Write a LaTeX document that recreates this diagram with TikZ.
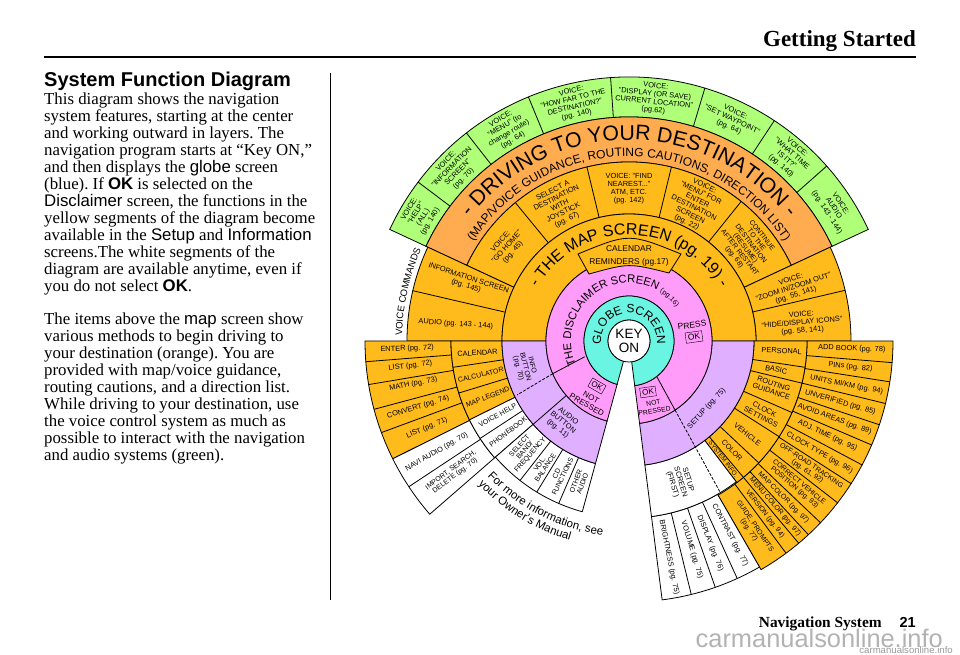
\documentclass[tikz,border=0pt]{standalone}
\usepackage{fontspec}
\setmainfont{Liberation Serif}
\setsansfont{Liberation Sans}
\usepackage{tikz}
\usetikzlibrary{decorations.text}
\definecolor{voicegreen}{RGB}{175,255,120}
\definecolor{driveorange}{RGB}{255,172,80}
\definecolor{mapamber}{RGB}{255,186,28}
\definecolor{discpink}{RGB}{255,156,250}
\definecolor{globeteal}{RGB}{105,245,225}
\definecolor{setuplilac}{RGB}{225,175,255}
\definecolor{markgrey}{RGB}{178,178,178}
\newcommand{\sector}[5]{\filldraw[ringline,fill=#1] (#2:#4) arc (#2:#3:#4) -- (#3:#5) arc (#3:#2:#5) -- cycle;}
\newcommand{\sansfs}[1]{\fontsize{#1}{#1}\selectfont\sffamily}
\newcommand{\labfs}{\fontsize{7.4}{8.1}\selectfont\sffamily}
\newcommand{\tightfs}{\fontsize{7}{7}\selectfont\sffamily}
\newcommand{\kw}[1]{{\sffamily #1}}
\tikzset{
	ringline/.style={draw=black,line width=0.8pt},
	arctext/.style={decorate,decoration={text along path,text align=center,text={#1}}},
	bodytext/.style={align=left,anchor=north west,inner sep=0pt,font=\fontsize{16.8}{17}\selectfont\frenchspacing}
}
\begin{document}
\begin{tikzpicture}[x=1pt,y=1pt]
	\useasboundingbox (-629,-314) rectangle (331,341);

	% page text
	\node (markbig) [anchor=base east,inner sep=0pt,text=markgrey,font=\sansfs{25.4}] at (314,-306) {carmanualsonline.info};
	\node (marksmall) [anchor=base east,inner sep=0pt,text=black!40,font=\sansfs{9.6}] at (324,-312) {carmanualsonline.info};
	\node (pagehead) [anchor=base east,inner sep=0pt,font=\fontsize{23}{23}\selectfont\bfseries] at (287,294) {Getting Started};
	\coordinate (ruleL) at (-585,284);
	\coordinate (ruleR) at (287,284);
	\draw[line width=1.4pt] (ruleL) -- (ruleR);
	\node (pagetitle) [anchor=base west,inner sep=0pt,font=\sansfs{20}\bfseries] at (-585,254) {System Function Diagram};
	\node (para1) [bodytext] at (-585,248.5) {This diagram shows the navigation\\
		system features, starting at the center\\
		and working outward in layers. The\\
		navigation program starts at “Key ON,”\\
		and then displays the \kw{globe} screen\\
		(blue). If \kw{\bfseries OK} is selected on the\\
		\kw{Disclaimer} screen, the functions in the\\
		yellow segments of the diagram become\\
		available in the \kw{Setup} and \kw{Information}\\
		screens.The white segments of the\\
		diagram are available anytime, even if\\
		you do not select \kw{\bfseries OK}.};
	\node (para2) [bodytext] at (-585,28.5) {The items above the \kw{map} screen show\\
		various methods to begin driving to\\
		your destination (orange). You are\\
		provided with map/voice guidance,\\
		routing cautions, and a direction list.\\
		While driving to your destination, use\\
		the voice control system as much as\\
		possible to interact with the navigation\\
		and audio systems (green).};
	\coordinate (sepT) at (-299,268);
	\coordinate (sepB) at (-299,-259);
	\draw[line width=0.7pt] (sepT) -- (sepB);
	\node (pagefoot) [anchor=base east,inner sep=0pt,font=\fontsize{15.4}{15.4}\selectfont\bfseries] at (287,-286.5) {Navigation System\hspace{18pt}{\sansfs{14.5}21}};

	% upper half
	\sector{voicegreen}{25}{155}{224}{264}
	\sector{driveorange}{25}{155}{179}{224}
	\sector{mapamber}{25}{155}{127}{179}
	\sector{mapamber}{155}{180}{127}{222}
	\sector{mapamber}{0}{25}{127}{222}
	\sector{mapamber}{0}{180}{83}{127}

	% lower left block
	\sector{mapamber}{180}{206.5}{178}{264}
	\sector{white}{206.5}{221}{178}{264}
	\sector{mapamber}{180}{206.3}{127}{178}
	\sector{white}{206.3}{221}{127}{178}
	\sector{white}{221}{254.7}{127}{177}
	\sector{setuplilac}{180}{254.7}{83}{127}

	% lower right block
	\sector{mapamber}{300}{360}{178}{264}
	\sector{white}{277.3}{300}{177}{261}
	\sector{mapamber}{307.3}{360}{125}{178}
	\sector{white}{277.3}{307.3}{125}{177}
	\sector{setuplilac}{277.3}{360}{83}{125}

	% centre
	\sector{discpink}{-82.7}{254.7}{45}{83}
	\sector{globeteal}{-82.7}{254.7}{21}{45}

	% dividers
	\foreach \a in {41.5,56.6,73.3,94,112.4,128,143} \draw[ringline] (\a:224) -- (\a:264);
	\foreach \a in {51.2,76.3,103.6,129.4} \draw[ringline] (\a:127) -- (\a:179);
	\foreach \a in {13.2,166.9} \draw[ringline] (\a:127) -- (\a:222);
	\foreach \a in {184.5,189.5,195,200.3,213.5} \draw[ringline] (\a:178) -- (\a:264);
	\foreach \a in {188.5,197,213.2} \draw[ringline] (\a:127) -- (\a:178);
	\draw[ringline] (221:83) -- (221:127);
	\foreach \a in {232,238.6,246.6} \draw[ringline] (\a:127) -- (\a:177);
	\foreach \a in {283.8,289.3,294.5} \draw[ringline] (\a:177) -- (\a:261);
	\foreach \a in {306.5,310,312.8,316.5,322.2,327.3,332,336.8,341.5,346.3,351.1,355.3} \draw[ringline] (\a:178) -- (\a:264);
	\foreach \a in {310,316.8,327.5,336.3,346.3,351.5} \draw[ringline] (\a:125) -- (\a:178);

	% not pressed lines
	\coordinate (npLa) at (199.6:47);
	\coordinate (npLb) at (203.2:83);
	\coordinate (npLc) at (-112,-54);
	\coordinate (npRa) at (28,-36);
	\coordinate (npRb) at (46,-69);
	\coordinate (npRc) at (91,-151);
	\draw[ringline] (npLa) -- (npLb);
	\draw[ringline,dash pattern=on 3pt off 1.5pt] (npLb) -- (npLc);
	\draw[ringline] (npRa) -- (npRb);
	\draw[ringline,dash pattern=on 3pt off 1.5pt] (npRb) -- (npRc);

	\node (keyon) [circle,draw=black,fill=white,line width=0.8pt,minimum size=42pt,inner sep=0pt,align=center,font=\fontsize{13.5}{14}\selectfont\sffamily] at (0,0) {KEY\\ON};

	% calendar box
	\coordinate (calA) at (-51,87);
	\coordinate (calB) at (52,87);
	\coordinate (calC) at (40,68);
	\coordinate (calD) at (-40,67);
	\filldraw[ringline,fill=mapamber] (calA) .. controls (0,108) .. (calB) -- (calC) .. controls (0,78) .. (calD) -- cycle;
	\node (calendar) [align=center,inner sep=0pt,font=\fontsize{8.4}{13.5}\selectfont\sffamily] at (0,85) {CALENDAR\\REMINDERS (pg.17)};

	% curved headings
	\path[arctext={|\sansfs{21.3}|- DRIVING TO YOUR DESTINATION -}] (165:201) arc (165:15:201);
	\path[arctext={|\sansfs{12}|(MAP/VOICE GUIDANCE, ROUTING CAUTIONS, DIRECTION LIST)}] (170:184.5) arc (170:10:184.5);
	\path[arctext={|\sansfs{16}|- THE MAP SCREEN (pg. 19) -}] (170:106) arc (170:10:106);
	\path[arctext={|\sansfs{11.3}|THE DISCLAIMER SCREEN |\sansfs{7}|(pg.16)}] (210:58) arc (210:30:58);
	\path[arctext={|\sansfs{12}|GLOBE SCREEN}] (195:28) arc (195:-15:28);
	\path[arctext={|\sansfs{9.5}|VOICE COMMANDS}] (185:227) arc (185:150:227);
	\path[arctext={|\sansfs{11.5}|For more information, see}] (215:196) arc (215:271:196);
	\path[arctext={|\sansfs{11.5}|your Owner's Manual}] (210:208) arc (210:267:208);

	\begin{scope}[every node/.style={align=center,inner sep=0pt,font=\labfs}]
		% green band
		\node (vhelp) [rotate=59] at (149:244) {VOICE:\\"HELP"\\(ALL)\\(pg. 140)};
		\node (vinfo) [rotate=45.5] at (135.5:244) {VOICE:\\"INFORMATION\\SCREEN"\\(pg. 70)};
		\node (vmenu) [rotate=30] at (120:244) {VOICE:\\"MENU" (to\\change route)\\(pg. 64)};
		\node (vfar) [rotate=13] at (103:244) {VOICE:\\"HOW FAR TO THE\\DESTINATION?"\\(pg. 140)};
		\node (vsave) [rotate=-6] at (84:244) {VOICE:\\"DISPLAY (OR SAVE)\\CURRENT LOCATION"\\(pg.62)};
		\node (vway) [rotate=-25] at (65:244) {VOICE:\\"SET WAYPOINT"\\(pg. 64)};
		\node (vtime) [rotate=-41] at (49:244) {VOICE:\\"WHAT TIME\\IS IT?"\\(pg. 140)};
		\node (vaudio) [rotate=-57] at (33:244) {VOICE:\\AUDIO\\(pg. 143 - 144)};
		% amber ring
		\node (vhome) [rotate=48] at (142.4:154) {VOICE:\\"GO HOME"\\(pg. 45)};
		\node (seljoy) [rotate=26] at (117:152) {SELECT A\\DESTINATION\\WITH\\JOYSTICK\\(pg. 67)};
		\node (vfind) at (90:152) {VOICE: "FIND\\NEAREST..."\\ATM, ETC.\\(pg. 142)};
		\node (vdest) [rotate=-26] at (64:152) {VOICE:\\"MENU" FOR\\ENTER\\DESTINATION\\SCREEN\\(pg. 22)};
		\node (contin) [rotate=-52,font=\tightfs] at (38.5:152) {CONTINUE\\TO THE\\DESTINATION\\(RESUME)\\AFTER RESTART\\(pg. 68)};
		\node (infoscr) [rotate=-18] at (160:172) {INFORMATION SCREEN\\(pg. 145)};
		\node (audioscr) [rotate=-4] at (174.4:174) {AUDIO (pg. 143 - 144)};
		\node (vzoom) [rotate=18] at (18:173) {VOICE:\\"ZOOM IN/ZOOM OUT"\\(pg. 55, 141)};
		\node (vicons) [rotate=5] at (6:174) {VOICE:\\"HIDE/DISPLAY ICONS"\\(pg. 58, 141)};
		% lower left, outer
		\node (enter) [rotate=2] at (182:222) {ENTER (pg. 72)};
		\node (listA) [rotate=7] at (186.5:220) {LIST (pg. 72)};
		\node (math) [rotate=11] at (191.3:220) {MATH (pg. 73)};
		\node (convert) [rotate=17] at (197.4:221) {CONVERT (pg. 74)};
		\node (listB) [rotate=23] at (203.3:220) {LIST (pg. 71)};
		\node (navi) [rotate=30] at (210:222) {NAVI AUDIO (pg. 70)};
		\node (import) [rotate=37,font=\tightfs] at (216.9:220) {IMPORT, SEARCH,\\DELETE (pg. 70)};
		% lower left, inner
		\node (calend) [rotate=4] at (184.5:152) {CALENDAR};
		\node (calcul) [rotate=13,font=\tightfs] at (192.8:152) {CALCULATOR};
		\node (legend) [rotate=21,font=\tightfs] at (201.6:152) {MAP LEGEND};
		\node (vhelpb) [rotate=29,font=\tightfs] at (209.5:151) {VOICE HELP};
		\node (phone) [rotate=37,font=\tightfs] at (216.9:151) {PHONEBOOK};
		\node (band) [rotate=49,font=\tightfs] at (226.5:151) {SELECT\\BAND/\\FREQUENCY};
		\node (vol) [rotate=56,font=\tightfs] at (235.3:152) {VOL.\\BALANCE};
		\node (cdfun) [rotate=64,font=\tightfs] at (242.6:151) {CD\\FUNCTIONS};
		\node (other) [rotate=70,font=\tightfs] at (250.6:150) {OTHER\\AUDIO};
		% lilac ring
		\node (infobtn) [rotate=-76,font=\tightfs] at (194:107) {INFO\\BUTTON\\(pg. 70)};
		\node (audiobtn) [rotate=-39] at (231:105) {AUDIO\\BUTTON\\(pg. 11)};
		\node (setup) [rotate=48] at (319:103) {SETUP (pg. 75)};
		\node (firstscr) [rotate=-73] at (290:150) {SETUP\\SCREEN\\(FIRST)};
		% lower right, white
		\node (bright) [rotate=-78.5] at (280.5:220) {BRIGHTNESS (pg. 75)};
		\node (volume) [rotate=-73] at (286.8:218) {VOLUME (pg. 75)};
		\node (display) [rotate=-68] at (291.9:218) {DISPLAY (pg. 76)};
		\node (contrast) [rotate=-62] at (297.5:219) {CONTRAST (pg. 77)};
		% lower right, inner
		\node (personal) [rotate=-3] at (356.3:153) {PERSONAL};
		\node (basic) [rotate=-11] at (349:150) {BASIC};
		\node (routing) [rotate=-18] at (342:151) {ROUTING\\GUIDANCE};
		\node (clockset) [rotate=-27] at (331.7:152) {CLOCK\\SETTINGS};
		\node (vehicle) [rotate=-38] at (321.7:151) {VEHICLE};
		\node (color) [rotate=-47] at (313.4:150) {COLOR};
		\node (sysinfo) [rotate=-52,font=\sansfs{6.2}] at (308.7:151) {SYSTEM INFO.};
		% lower right, outer
		\node (addbook) [rotate=-2] at (358:223) {ADD BOOK (pg. 78)};
		\node (pins) [rotate=-6] at (353.3:223) {PINs (pg. 82)};
		\node (units) [rotate=-11] at (348.6:222) {UNITS MI/KM (pg. 94)};
		\node (unverif) [rotate=-16] at (343.8:220) {UNVERIFIED (pg. 85)};
		\node (avoid) [rotate=-20] at (339.2:220) {AVOID AREAS (pg. 89)};
		\node (adj) [rotate=-25] at (334.5:220) {ADJ. TIME (pg. 95)};
		\node (clocktype) [rotate=-30] at (329.6:221) {CLOCK TYPE (pg. 96)};
		\node (offroad) [rotate=-34,font=\tightfs] at (324.7:221) {OFF-ROAD TRACKING\\(pg. 61, 92)};
		\node (correct) [rotate=-40,font=\tightfs] at (319.4:221) {CORRECT VEHICLE\\POSITION (pg. 93)};
		\node (mapcol) [rotate=-45,font=\tightfs] at (314.6:220) {MAP COLOR (pg. 97)};
		\node (menucol) [rotate=-49,font=\tightfs] at (311.4:221) {MENU COLOR (pg. 97)};
		\node (version) [rotate=-52,font=\tightfs] at (308.2:220) {VERSION (pg. 94)};
		\node (guide) [rotate=-56,font=\tightfs] at (303.3:224) {GUIDE, PROMPTS\\(pg. 77)};
		% press / not pressed
		\node (press) [rotate=8,font=\sansfs{8.5}] at (63,16) {PRESS};
		\node (okpress) [draw,rotate=8,inner sep=2.2pt,font=\sansfs{8.5}] at (65,4) {OK};
		\node (okleft) [draw,rotate=-30,inner sep=2pt,font=\sansfs{8}] at (-32,-45) {OK};
		\node (npleft) [rotate=-30,font=\fontsize{8}{8.4}\selectfont\sffamily] at (-40,-60) {NOT\\PRESSED};
		\node (okright) [draw,rotate=8,inner sep=2pt,font=\sansfs{8}] at (19,-51) {OK};
		\node (npright) [rotate=9,font=\fontsize{6.8}{8}\selectfont\sffamily] at (25,-66) {NOT\\PRESSED};
	\end{scope}
\end{tikzpicture}
\end{document}
